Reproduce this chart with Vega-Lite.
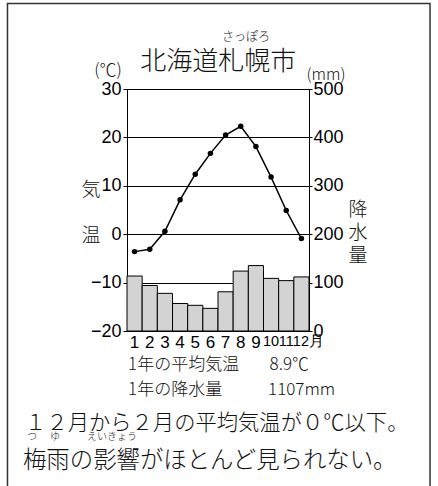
{
  "$schema": "https://vega.github.io/schema/vega-lite/v6.json",
  "width": 182,
  "height": 242,
  "autosize": {"type": "none"},
  "padding": {"left": 127, "top": 89, "right": 129, "bottom": 155},
  "background": "white",
  "config": {
    "view": {"stroke": "black", "strokeWidth": 1},
    "font": "Noto Sans CJK JP",
    "text": {"fontWeight": 300, "color": "#111"},
    "axis": {"labelColor": "black", "domainColor": "black", "tickColor": "black", "labelFont": "Liberation Sans"}
  },
  "data": {
    "values": [
      {"month": 1, "temp": -3.6, "precip": 113.6},
      {"month": 2, "temp": -3.1, "precip": 94.0},
      {"month": 3, "temp": 0.6, "precip": 77.8},
      {"month": 4, "temp": 7.1, "precip": 56.8},
      {"month": 5, "temp": 12.4, "precip": 53.1},
      {"month": 6, "temp": 16.7, "precip": 46.8},
      {"month": 7, "temp": 20.5, "precip": 81.0},
      {"month": 8, "temp": 22.3, "precip": 123.8},
      {"month": 9, "temp": 18.1, "precip": 135.2},
      {"month": 10, "temp": 11.8, "precip": 108.7},
      {"month": 11, "temp": 4.9, "precip": 104.1},
      {"month": 12, "temp": -0.9, "precip": 111.7}
    ]
  },
  "layer": [
    {
      "layer": [
        {
          "mark": {"type": "bar", "fill": "#d3d3d3", "stroke": "black", "strokeWidth": 1},
          "encoding": {
            "x": {
              "field": "month", "type": "ordinal",
              "scale": {"paddingInner": 0, "paddingOuter": 0},
              "axis": {
                "title": null, "labelAngle": 0, "ticks": false, "domain": false,
                "labelPadding": 3,
                "labelFontSize": {"condition": {"test": "datum.value >= 10", "value": 14.5}, "value": 17},
                "labelOffset": {"condition": {"test": "datum.value == 12", "value": 7}, "value": 0},
                "labelExpr": "datum.value == 12 ? '12月' : datum.label"
              }
            },
            "y": {
              "field": "precip", "type": "quantitative",
              "scale": {"domain": [0, 500], "nice": false},
              "axis": {
                "orient": "right", "title": null, "values": [0, 100, 200, 300, 400, 500],
                "grid": false, "tickSize": 3, "labelPadding": 1, "labelFontSize": 18, "domain": true
              }
            }
          }
        },
        {
          "layer": [
            {
              "mark": {"type": "line", "color": "black", "strokeWidth": 1.5},
              "encoding": {
                "x": {"field": "month", "type": "ordinal"},
                "y": {
                  "field": "temp", "type": "quantitative",
                  "scale": {"domain": [-20, 30], "nice": false, "zero": false},
                  "axis": {
                    "title": null, "values": [-20, -10, 0, 10, 20, 30],
                    "grid": true, "gridColor": "black", "gridWidth": 1, "gridOpacity": 1,
                    "tickSize": 4, "labelPadding": 2, "labelFontSize": 18, "domain": true
                  }
                }
              }
            },
            {
              "mark": {"type": "point", "filled": true, "color": "black", "size": 30, "opacity": 1},
              "encoding": {
                "x": {"field": "month", "type": "ordinal"},
                "y": {"field": "temp", "type": "quantitative"}
              }
            }
          ]
        }
      ],
      "resolve": {"scale": {"y": "independent"}}
    },
    {
      "data": {"values": [{}]},
      "layer": [
        {
          "mark": {"type": "rect", "filled": false, "color": "#333", "strokeWidth": 1.5, "clip": false},
          "encoding": {
            "x": {"datum": -7.38, "type": "quantitative", "scale": {"domain": [0.5, 12.5], "nice": false, "zero": false}, "axis": null},
            "x2": {"datum": 20.48},
            "y": {"datum": 47.67, "type": "quantitative", "scale": {"domain": [-20, 30], "nice": false, "zero": false}, "axis": null},
            "y2": {"datum": -53.9}
          }
        },
        {
          "mark": {"type": "text", "text": "北海道札幌市", "fontSize": 26, "align": "center", "baseline": "middle", "clip": false},
          "encoding": {"x": {"datum": 6.52, "type": "quantitative"}, "y": {"datum": 35.6, "type": "quantitative"}}
        },
        {
          "mark": {"type": "text", "text": "さっぽろ", "fontSize": 12, "align": "center", "baseline": "middle", "clip": false},
          "encoding": {"x": {"datum": 8.35, "type": "quantitative"}, "y": {"datum": 40.7, "type": "quantitative"}}
        },
        {
          "mark": {"type": "text", "text": "(℃)", "fontSize": 17, "align": "center", "baseline": "middle", "clip": false},
          "encoding": {"x": {"datum": -0.75, "type": "quantitative"}, "y": {"datum": 33.7, "type": "quantitative"}}
        },
        {
          "mark": {"type": "text", "text": "(mm)", "fontSize": 16, "align": "center", "baseline": "middle", "clip": false},
          "encoding": {"x": {"datum": 13.62, "type": "quantitative"}, "y": {"datum": 32.9, "type": "quantitative"}}
        },
        {
          "mark": {"type": "text", "text": "気", "fontSize": 19, "align": "center", "baseline": "middle", "clip": false},
          "encoding": {"x": {"datum": -1.87, "type": "quantitative"}, "y": {"datum": 9.2, "type": "quantitative"}}
        },
        {
          "mark": {"type": "text", "text": "温", "fontSize": 19, "align": "center", "baseline": "middle", "clip": false},
          "encoding": {"x": {"datum": -1.87, "type": "quantitative"}, "y": {"datum": -0.4, "type": "quantitative"}}
        },
        {
          "mark": {"type": "text", "text": ["降", "水", "量"], "lineHeight": 23, "fontSize": 19, "align": "center", "baseline": "middle", "clip": false},
          "encoding": {"x": {"datum": 15.73, "type": "quantitative"}, "y": {"datum": 5.0, "type": "quantitative"}}
        },
        {
          "mark": {"type": "text", "text": "1年の平均気温", "fontSize": 17, "align": "left", "baseline": "middle", "clip": false},
          "encoding": {"x": {"datum": 0.57, "type": "quantitative"}, "y": {"datum": -27.0, "type": "quantitative"}}
        },
        {
          "mark": {"type": "text", "text": "8.9℃", "fontSize": 17, "align": "left", "baseline": "middle", "clip": false},
          "encoding": {"x": {"datum": 9.9, "type": "quantitative"}, "y": {"datum": -27.0, "type": "quantitative"}}
        },
        {
          "mark": {"type": "text", "text": "1年の降水量", "fontSize": 17, "align": "left", "baseline": "middle", "clip": false},
          "encoding": {"x": {"datum": 0.57, "type": "quantitative"}, "y": {"datum": -32.2, "type": "quantitative"}}
        },
        {
          "mark": {"type": "text", "text": "1107mm", "fontSize": 17, "align": "left", "baseline": "middle", "clip": false},
          "encoding": {"x": {"datum": 9.8, "type": "quantitative"}, "y": {"datum": -32.2, "type": "quantitative"}}
        },
        {
          "mark": {"type": "text", "text": "１２月から２月の平均気温が０℃以下。", "fontSize": 21.3, "align": "left", "baseline": "middle", "clip": false},
          "encoding": {"x": {"datum": -6.22, "type": "quantitative"}, "y": {"datum": -39.2, "type": "quantitative"}}
        },
        {
          "mark": {"type": "text", "text": "梅雨の影響がほとんど見られない。", "fontSize": 23.4, "align": "left", "baseline": "middle", "clip": false},
          "encoding": {"x": {"datum": -6.36, "type": "quantitative"}, "y": {"datum": -46.9, "type": "quantitative"}}
        },
        {
          "mark": {"type": "text", "text": "つ", "fontSize": 10, "align": "center", "baseline": "middle", "clip": false},
          "encoding": {"x": {"datum": -5.76, "type": "quantitative"}, "y": {"datum": -41.9, "type": "quantitative"}}
        },
        {
          "mark": {"type": "text", "text": "ゆ", "fontSize": 10, "align": "center", "baseline": "middle", "clip": false},
          "encoding": {"x": {"datum": -4.25, "type": "quantitative"}, "y": {"datum": -41.9, "type": "quantitative"}}
        },
        {
          "mark": {"type": "text", "text": "えいきょう", "fontSize": 10, "align": "center", "baseline": "middle", "clip": false},
          "encoding": {"x": {"datum": -0.49, "type": "quantitative"}, "y": {"datum": -41.9, "type": "quantitative"}}
        }
      ]
    }
  ],
  "resolve": {"scale": {"x": "independent", "y": "independent"}}
}
